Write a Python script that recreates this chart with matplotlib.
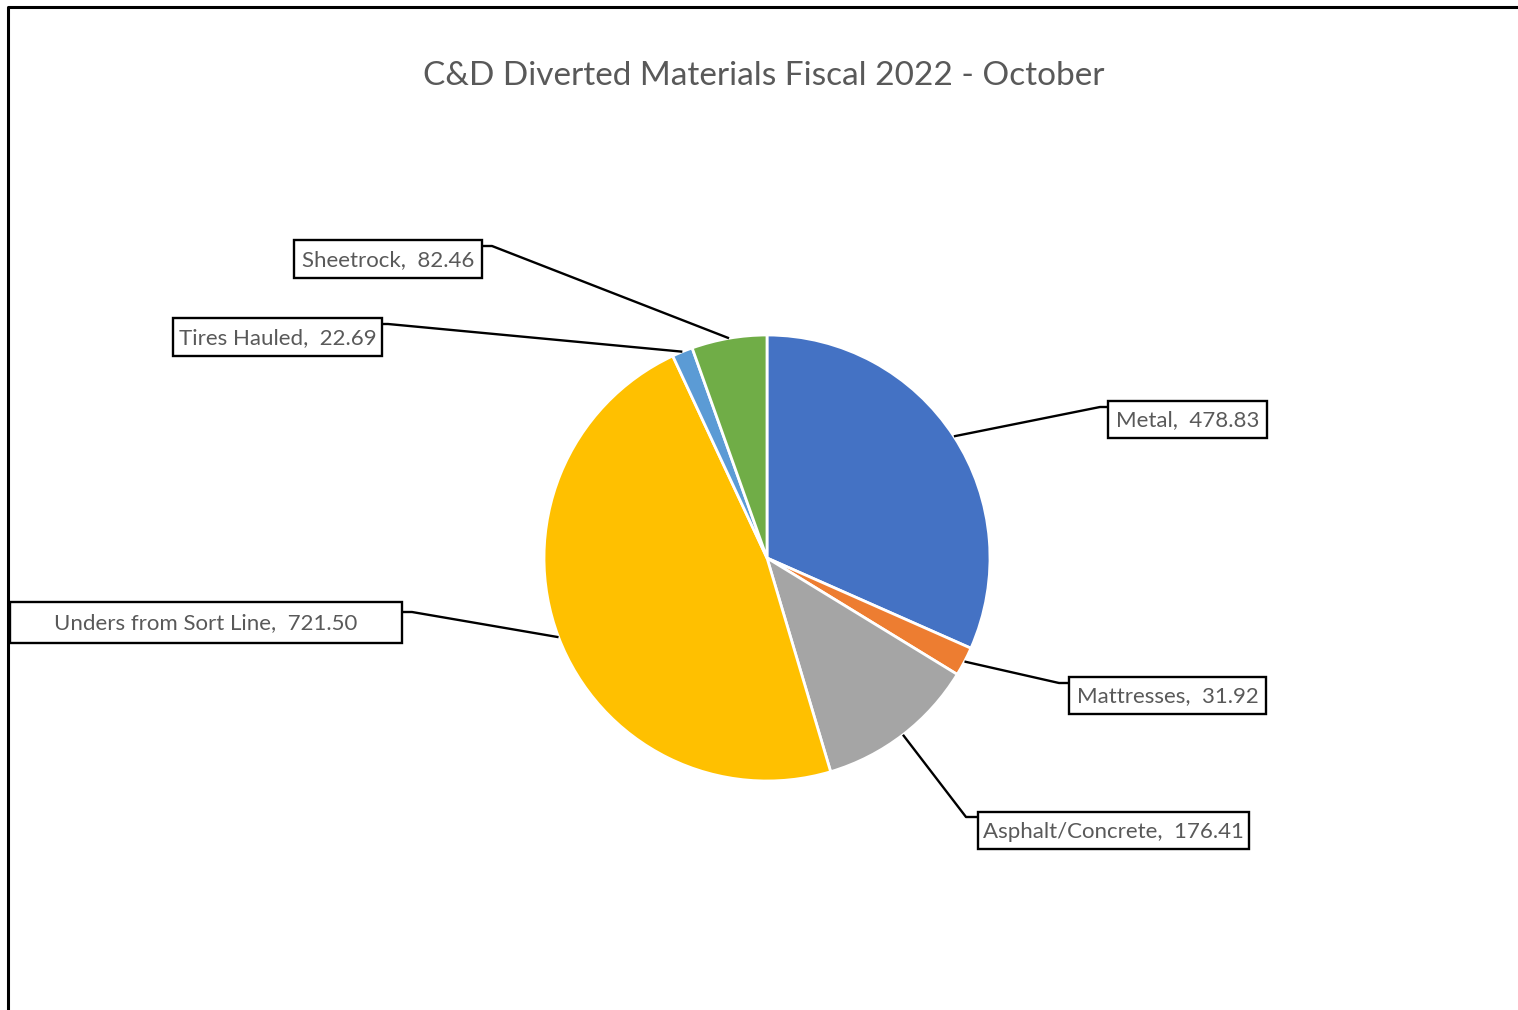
import matplotlib
matplotlib.use("Agg")
import matplotlib.pyplot as plt
from matplotlib.patches import Rectangle
from matplotlib.lines import Line2D
import numpy as np

categories = ["Metal", "Mattresses", "Asphalt/Concrete", "Unders from Sort Line", "Tires Hauled", "Sheetrock"]
values = [478.83, 31.92, 176.41, 721.50, 22.69, 82.46]
colors = ["#4472C4", "#ED7D31", "#A5A5A5", "#FFC000", "#5B9BD5", "#70AD47"]
title = "C&D Diverted Materials Fiscal 2022 - October"

W, H = 1518, 1010
# label boxes in pixel coords: (left, top, right, bottom), elbow point (x, y) on the box side
boxes = [(1108, 401, 1267, 438), (1069, 677, 1266, 714), (978, 812, 1249, 849),
         (10, 602, 402, 643), (173, 318, 382, 356), (294, 240, 482, 278)]
elbows = [((1100, 407), (1108, 407)), ((1059, 683), (1069, 683)), ((966, 817), (978, 817)),
          ((412, 612), (402, 612)), ((388, 324), (382, 324)), ((492, 246), (482, 246))]

FONT = "Lato"
TXT = "#595959"

fig = plt.figure(figsize=(W / 100, H / 100), dpi=100)
ax = fig.add_axes([0, 0, 1, 1])

def Y(py):
    return H - py

cx, cy, r = 767, 558, 223
wedges, _ = ax.pie(values, colors=colors, startangle=90, counterclock=False,
                   center=(cx, Y(cy)), radius=r, frame=True,
                   wedgeprops=dict(edgecolor="white", linewidth=2))
ax.set_xlim(0, W)
ax.set_ylim(0, H)
ax.set_aspect("equal")
ax.axis("off")

for w, name, val, box, (e1, e2) in zip(wedges, categories, values, boxes, elbows):
    mid = np.deg2rad((w.theta1 + w.theta2) / 2)
    px = cx + r * np.cos(mid)
    py = Y(cy) + r * np.sin(mid)
    ax.plot([px, e1[0], e2[0]], [py, Y(e1[1]), Y(e2[1])], color="black", lw=1.7,
            solid_capstyle="butt", zorder=3)
    l, t, rr, b = box
    ax.add_patch(Rectangle((l, Y(b)), rr - l, b - t, facecolor="white", edgecolor="black",
                           lw=1.7, zorder=4))
    ax.text((l + rr) / 2, Y((t + b) / 2 + 1), f"{name},  {val:.2f}", ha="center", va="center",
            fontsize=16, color=TXT, family=FONT, zorder=5)

ax.text(764, Y(76), title, ha="center", va="center", fontsize=24, color=TXT, family=FONT)

# outer frame (left and top edges)
fig.add_artist(Line2D([8 / W, 8 / W, 1], [0, 1 - 7 / H, 1 - 7 / H], transform=fig.transFigure,
                      color="black", lw=2.2))

fig.savefig("out.png", dpi=100)
